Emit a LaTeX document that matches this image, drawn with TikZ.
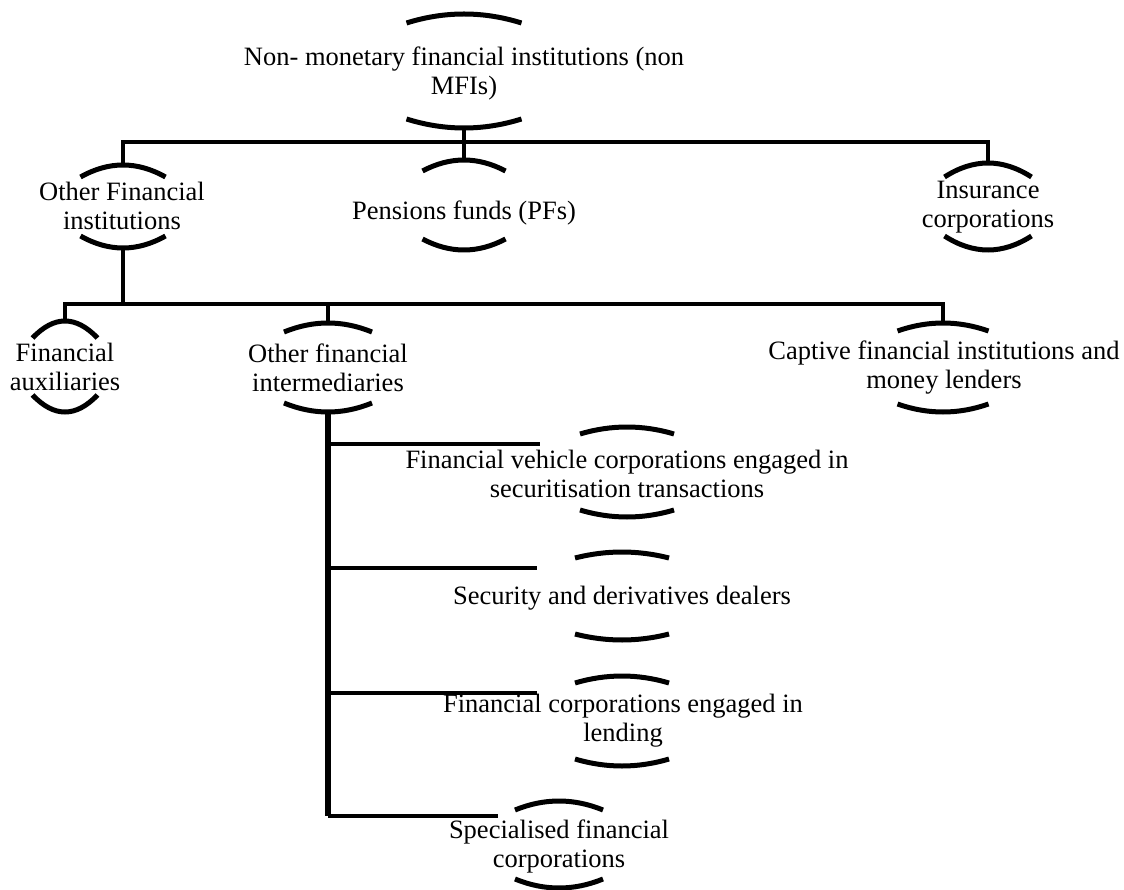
\documentclass[tikz,border=0pt]{standalone}
\usepackage{fontspec}
\setmainfont{Liberation Serif}
\usetikzlibrary{calc}
\tikzset{
  conn/.style={line width=4.5pt},
  spine/.style={line width=6pt},
  arcline/.style={line width=5pt},
  lbl/.style={align=center, inner sep=0pt, font=\fontsize{26.5}{29}\selectfont},
}
% #1 name, #2 centre x, #3 top apex y, #4 bottom apex y, #5 arc width, #6 sag
\newcommand{\archpair}[6]{%
  \coordinate (#1-t) at (#2,#3);
  \coordinate (#1-b) at (#2,#4);
  \draw[arcline] ($(#1-t)+(-#5/2,#6)$) .. controls ($(#1-t)+(-#5/6,-#6/3)$) and ($(#1-t)+(#5/6,-#6/3)$) .. ($(#1-t)+(#5/2,#6)$);
  \draw[arcline] ($(#1-b)+(-#5/2,-#6)$) .. controls ($(#1-b)+(-#5/6,#6/3)$) and ($(#1-b)+(#5/6,#6/3)$) .. ($(#1-b)+(#5/2,-#6)$);
}
\begin{document}
\begin{tikzpicture}[x=1pt,y=-1pt]
\useasboundingbox (0,0) rectangle (1124,890);

% level 0
\node[lbl] (nonmfi) at (464,73) {Non- monetary financial institutions (non\\MFIs)};
\archpair{nonmfi}{464}{14}{128}{115}{9}

% level 1
\node[lbl] (ofi) at (122,206) {Other Financial\\institutions};
\archpair{ofi}{123}{165}{248}{85}{12}
\node[lbl] (pf) at (464,213) {Pensions funds (PFs)};
\archpair{pf}{464}{160}{250}{83}{11}
\node[lbl] (ins) at (988,207) {Insurance\\corporations};
\archpair{ins}{988}{163}{250}{87}{14}

% level 2
\node[lbl] (fa) at (65,367) {Financial\\auxiliaries};
\archpair{fa}{65}{321}{412}{65}{17}
\node[lbl] (ofint) at (328,368) {Other financial\\intermediaries};
\archpair{ofint}{328}{323}{412}{88}{9}
\node[lbl] (cap) at (944,368) {Captive financial institutions and\\money lenders};
\archpair{cap}{943}{323}{412}{91}{8}

% level 3
\node[lbl] (fvc) at (627,474) {Financial vehicle corporations engaged in\\securitisation transactions};
\archpair{fvc}{627}{427}{517}{94}{7}
\node[lbl] (sdd) at (622,598) {Security and derivatives dealers};
\archpair{sdd}{622}{552}{640}{94}{6}
\node[lbl] (fcl) at (623,721) {Financial corporations engaged in\\lending};
\archpair{fcl}{622}{676}{766}{94}{7}
\node[lbl] (sfc) at (559,846) {Specialised financial\\corporations};
\archpair{sfc}{559}{801}{888}{88}{9}

% bus lines
\coordinate (bus1) at (464,142);
\coordinate (bus2) at (123,304);
\draw[conn] (nonmfi-b) -- (bus1);
\draw[conn] (bus1) -- (pf-t);
\draw[conn] (bus1) -| (ofi-t);
\draw[conn] (bus1) -| (ins-t);

\draw[conn] (ofi-b) -- (bus2);
\draw[conn] (bus2) -| (fa-t);
\draw[conn] (bus2) -| (ofint-t);
\draw[conn] (bus2) -| (cap-t);

% spine with branch stubs
\coordinate (s1) at (328,444);
\coordinate (s2) at (328,568);
\coordinate (s3) at (328,693);
\coordinate (s4) at (328,816);
\coordinate (e1) at (540,444);
\coordinate (e2) at (537,568);
\coordinate (e3) at (537,693);
\coordinate (e4) at (498,816);
\draw[spine] (ofint-b) -- (s4);
\draw[conn] (s1) -- (e1);
\draw[conn] (s2) -- (e2);
\draw[conn] (s3) -- (e3);
\draw[conn] (s4) -- (e4);
\end{tikzpicture}
\end{document}
